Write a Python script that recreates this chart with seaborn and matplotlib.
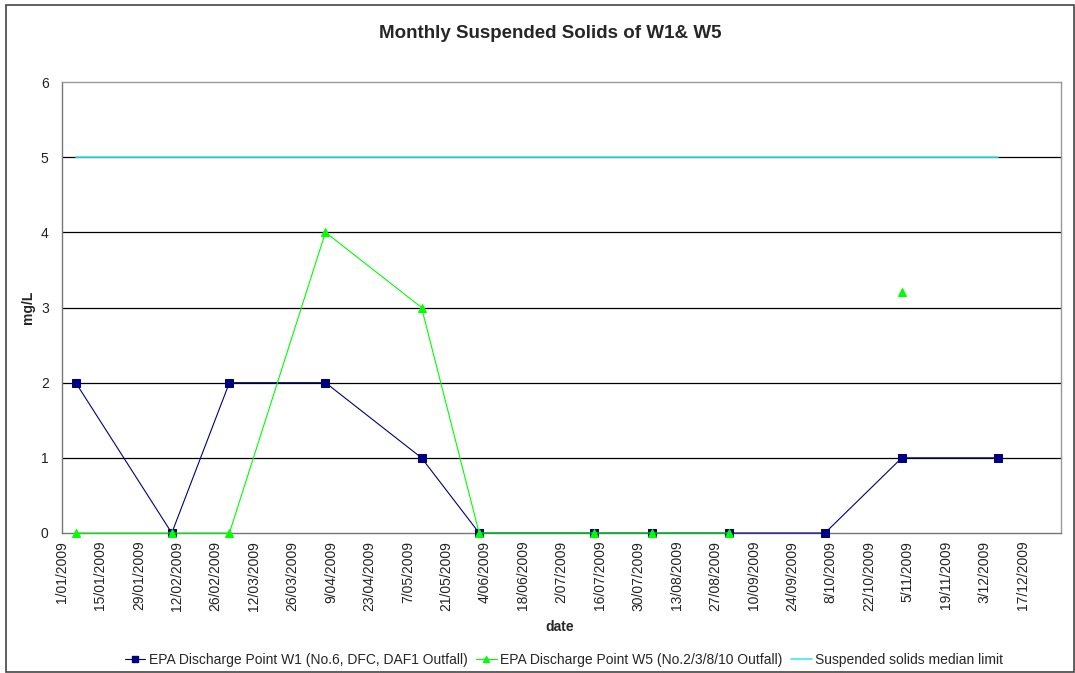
import numpy as np
import pandas as pd
import matplotlib
matplotlib.use("Agg")
import matplotlib.pyplot as plt
from matplotlib.lines import Line2D
from matplotlib.patches import Rectangle
import seaborn as sns

# sampling dates and results (mg/L)
dates = ["2009-01-06", "2009-02-10", "2009-03-03", "2009-04-07", "2009-05-12", "2009-06-02",
         "2009-07-14", "2009-08-04", "2009-09-01", "2009-10-06", "2009-11-03", "2009-12-08"]
w1 = [2, 0, 2, 2, 1, 0, 0, 0, 0, 0, 1, 1]
w5 = [0, 0, 0, 4, 3, 0, 0, 0, 0, np.nan, 3.2, np.nan]
limit = [5] * 12

w1_name = "EPA Discharge Point W1 (No.6, DFC, DAF1 Outfall)"
w5_name = "EPA Discharge Point W5 (No.2/3/8/10 Outfall)"
limit_name = "Suspended solids median limit"

df = pd.DataFrame({"date": pd.to_datetime(dates), "W1": w1, "W5": w5, "limit": limit})
# W5 has gaps, so split it into runs so the line is broken like in Excel
df["w5_seg"] = df["W5"].isna().cumsum()
w5_df = df.dropna(subset=["W5"])

sns.set_style("white")
plt.rcParams["font.family"] = ["Liberation Sans", "DejaVu Sans"]

navy = "#000080"
lime = "#00FF00"
cyan = "#40E8F0"

fig = plt.figure(figsize=(10.75, 6.73), dpi=100)
ax = fig.add_axes([62 / 1075, 1 - 533 / 673, (1061 - 62) / 1075, (533 - 82) / 673])

# gridlines
for g in [1, 2, 3, 4, 5]:
    ax.axhline(g, color="black", lw=0.9, zorder=0)

sns.lineplot(data=df, x="date", y="W1", ax=ax, color=navy, lw=0.8, marker="s",
             markersize=6, markeredgecolor=navy, markerfacecolor=navy, zorder=3,
             clip_on=False)
sns.lineplot(data=w5_df, x="date", y="W5", units="w5_seg", estimator=None, ax=ax,
             color=lime, lw=0.8, marker="^", markersize=5.5, markeredgecolor=lime,
             markerfacecolor=lime, zorder=4, clip_on=False)
sns.lineplot(data=df, x="date", y="limit", ax=ax, color=cyan, lw=1.2, zorder=5)

ax.set_xlim(pd.Timestamp("2009-01-01"), pd.Timestamp("2009-12-31"))
ax.set_ylim(0, 6)
ax.set_yticks(range(0, 7))
ticks = pd.date_range("2009-01-01", "2009-12-31", freq="14D")
ax.set_xticks(list(ticks) + [pd.Timestamp("2009-12-31")])
labels = [f"{d.day}/{d.month:02d}/{d.year}" for d in ticks] + [""]
ax.set_xticklabels(labels, rotation=90)

ax.tick_params(axis="both", direction="out", length=3.6, width=0.9, color="#555555",
               labelsize=10, labelcolor="#222222", pad=2)
ax.tick_params(axis="y", pad=6)
for side in ["left", "bottom", "right", "top"]:
    ax.spines[side].set_visible(True)
    ax.spines[side].set_color("#999999")
    ax.spines[side].set_linewidth(1.0)
ax.spines["left"].set_color("#777777")
ax.spines["bottom"].set_color("#777777")
ax.set_xlabel("")
ax.set_ylabel("")

fig.text(550 / 1075, 1 - 33 / 673, "Monthly Suspended Solids of W1& W5",
         ha="center", va="center", fontsize=13.5, fontweight="bold")
fig.text(28 / 1075, 1 - 307 / 673, "mg/L", ha="center", va="center",
         rotation=90, fontsize=10, fontweight="bold")
fig.text(560 / 1075, 1 - 627 / 673, "date", ha="center", va="center",
         fontsize=10, fontweight="bold")

handles = [
    Line2D([], [], color=navy, lw=0.8, marker="s", markersize=5),
    Line2D([], [], color=lime, lw=0.8, marker="^", markersize=5),
    Line2D([], [], color=cyan, lw=1.2),
]
fig.legend(handles, [w1_name, w5_name, limit_name], loc="center",
           bbox_to_anchor=(564 / 1075, 1 - 660 / 673), ncol=3, frameon=False,
           fontsize=10, handlelength=1.5, handletextpad=0.25, columnspacing=0.6)

fig.patches.append(Rectangle((6 / 1075, 1 - 672 / 673), 1068 / 1075, 667 / 673,
                             transform=fig.transFigure, fill=False,
                             edgecolor="#444444", lw=1.2))

fig.savefig("out.png", dpi=100)
